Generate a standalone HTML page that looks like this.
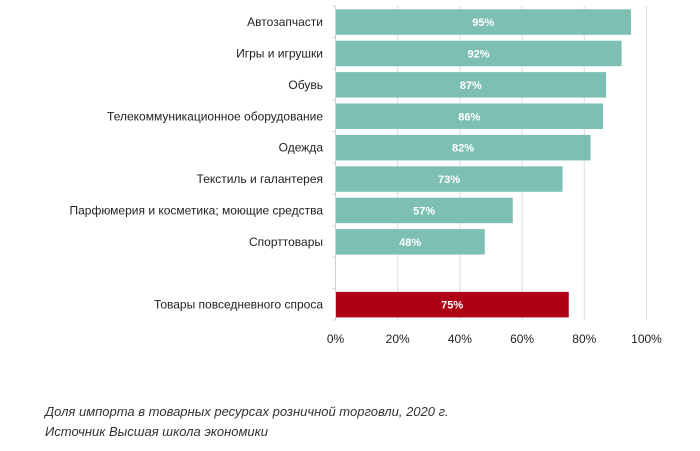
<!DOCTYPE html>
<html><head><meta charset="utf-8"><style>
body{margin:0;background:#fff;width:700px;height:451px;overflow:hidden;font-family:"Liberation Sans",Arial,sans-serif}
.cap{position:absolute;left:45px;font-style:italic;font-size:13px;color:#333}
</style></head><body>
<svg width="700" height="451" style="position:absolute;left:0;top:0" id="c"></svg>
<div class="cap" style="top:404px">Доля импорта в товарных ресурсах розничной торговли, 2020 г.</div>
<div class="cap" style="top:424px">Источник Высшая школа экономики</div>
<script>
const categories=["Автозапчасти","Игры и игрушки","Обувь","Телекоммуникационное оборудование","Одежда","Текстиль и галантерея","Парфюмерия и косметика; моющие средства","Спорттовары","","Товары повседневного спроса"];
const values=[95,92,87,86,82,73,57,48,null,75];
const highlight=[false,false,false,false,false,false,false,false,false,true];
const ticks=[0,20,40,60,80,100];
const svg=document.getElementById('c'),NS="http://www.w3.org/2000/svg";
const x0=335.5,x1=646.5,top0=6,band=31.4;
const xs=v=>x0+(x1-x0)*v/100;
function mk(t,a,p){const e=document.createElementNS(NS,t);for(const k in a)e.setAttribute(k,a[k]);(p||svg).appendChild(e);return e;}
const bottom=top0+band*categories.length;
ticks.forEach((t,i)=>{
 if(i>0){const g=mk('line',{x1:xs(t),x2:xs(t),y1:top0,y2:bottom,stroke:'#dcdcdc','stroke-width':1});
 
 }
 const l=mk('text',{x:xs(t),y:343,'text-anchor':'middle','font-size':12,fill:'#222'});
 l.textContent=t+'%';
 
 
});
const ax=mk('line',{x1:x0,x2:x0,y1:top0,y2:bottom,stroke:'#d0d0d0','stroke-width':1});


for(let i=0;i<=categories.length;i++){const tk=mk('line',{x1:x0-3,x2:x0,y1:top0+i*band,y2:top0+i*band,stroke:'#d0d0d0'});
 
 }
categories.forEach((c,i)=>{
 const y=top0+i*band+3.3,h=25.5;
 if(c){const l=mk('text',{x:323,y:y+h/2+4,'text-anchor':'end','font-size':12,fill:'#222'});
 l.textContent=c;
 
 }
 if(values[i]!=null){
 const b=mk('rect',{x:x0+0.5,y:y,width:xs(values[i])-x0-0.5,height:h,fill:highlight[i]?'#b00016':'#7dbfb3'});
 
 
 const v=mk('text',{x:(x0+xs(values[i]))/2,y:y+h/2+4,'text-anchor':'middle','font-size':11,'font-weight':'bold',fill:'#fff'});
 v.textContent=values[i]+'%';
 
 }
});
</script>
</body></html>
